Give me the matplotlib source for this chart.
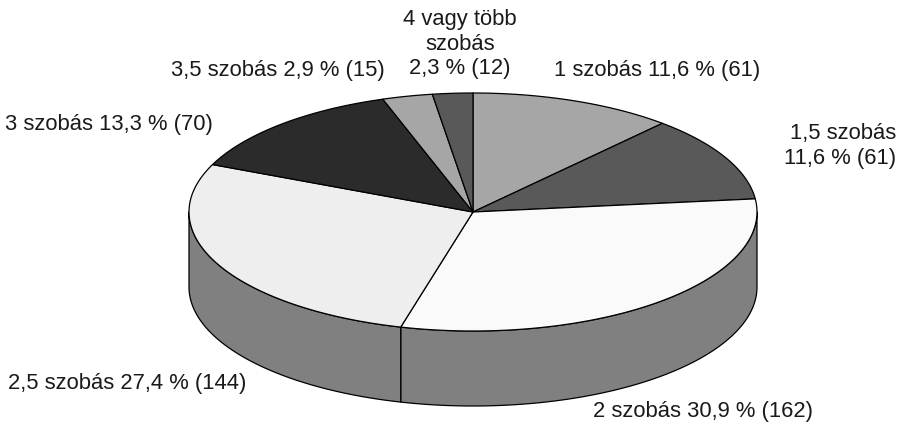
import numpy as np
import matplotlib
matplotlib.use("Agg")
import matplotlib.pyplot as plt
from matplotlib.patches import Polygon

categories = ["1 szobás", "1,5 szobás", "2 szobás", "2,5 szobás",
              "3 szobás", "3,5 szobás", "4 vagy több szobás"]
counts = [61, 61, 162, 144, 70, 15, 12]
percents = [11.6, 11.6, 30.9, 27.4, 13.3, 2.9, 2.3]
top_colors = ["#a6a6a6", "#595959", "#fafafa", "#eeeeee", "#2b2b2b", "#a6a6a6", "#595959"]
side_color = "#808080"

plt.rcParams['font.family'] = ['Liberation Sans', 'DejaVu Sans']

fig = plt.figure(figsize=(9.02, 4.28), dpi=100)
ax = fig.add_axes([0, 0, 1, 1])
ax.set_xlim(0, 902)
ax.set_ylim(428, 0)
ax.axis('off')

cx, cy, rx, ry, depth = 473, 212, 284, 119, 75

def pt(t, dy=0):
    # t: degrees clockwise from top
    r = np.radians(t)
    return cx + rx * np.sin(r), cy - ry * np.cos(r) + dy

total = sum(counts)
angles = np.cumsum([0] + [c / total * 360 for c in counts])

# sides (front half: 90..270 deg)
for i in range(len(counts)):
    a0, a1 = max(angles[i], 90), min(angles[i + 1], 270)
    if a1 <= a0:
        continue
    ts = np.linspace(a0, a1, 100)
    top = [pt(t) for t in ts]
    bot = [pt(t, depth) for t in ts[::-1]]
    ax.add_patch(Polygon(top + bot, closed=True, facecolor=side_color,
                         edgecolor='black', linewidth=0.9, joinstyle='round'))

# top wedges
for i in range(len(counts)):
    ts = np.linspace(angles[i], angles[i + 1], 120)
    verts = [(cx, cy)] + [pt(t) for t in ts]
    ax.add_patch(Polygon(verts, closed=True, facecolor=top_colors[i],
                         edgecolor='black', linewidth=0.9, joinstyle='round'))

def fmt(p):
    return f"{p:.1f}".replace('.', ',')

fs = 15.8
tc = '#1a1a1a'
lab = [f"{categories[i]} {fmt(percents[i])} % ({counts[i]})" for i in range(len(counts))]
ax.text(657, 70, lab[0], fontsize=fs, ha='center', va='center', color=tc)
ax.text(840, 146, f"{categories[1]}\n{fmt(percents[1])} % ({counts[1]})", fontsize=fs,
        ha='center', va='center', color=tc, linespacing=1.2, multialignment='right')
ax.text(703, 412, lab[2], fontsize=fs, ha='center', va='center', color=tc)
ax.text(127, 384, lab[3], fontsize=fs, ha='center', va='center', color=tc)
ax.text(109, 124, lab[4], fontsize=fs, ha='center', va='center', color=tc)
ax.text(278, 70, lab[5], fontsize=fs, ha='center', va='center', color=tc)
ax.text(460, 44, "4 vagy több\nszobás\n" + f"{fmt(percents[6])} % ({counts[6]})",
        fontsize=fs, ha='center', va='center', color=tc, linespacing=1.2)

fig.savefig("out.png", dpi=100)
